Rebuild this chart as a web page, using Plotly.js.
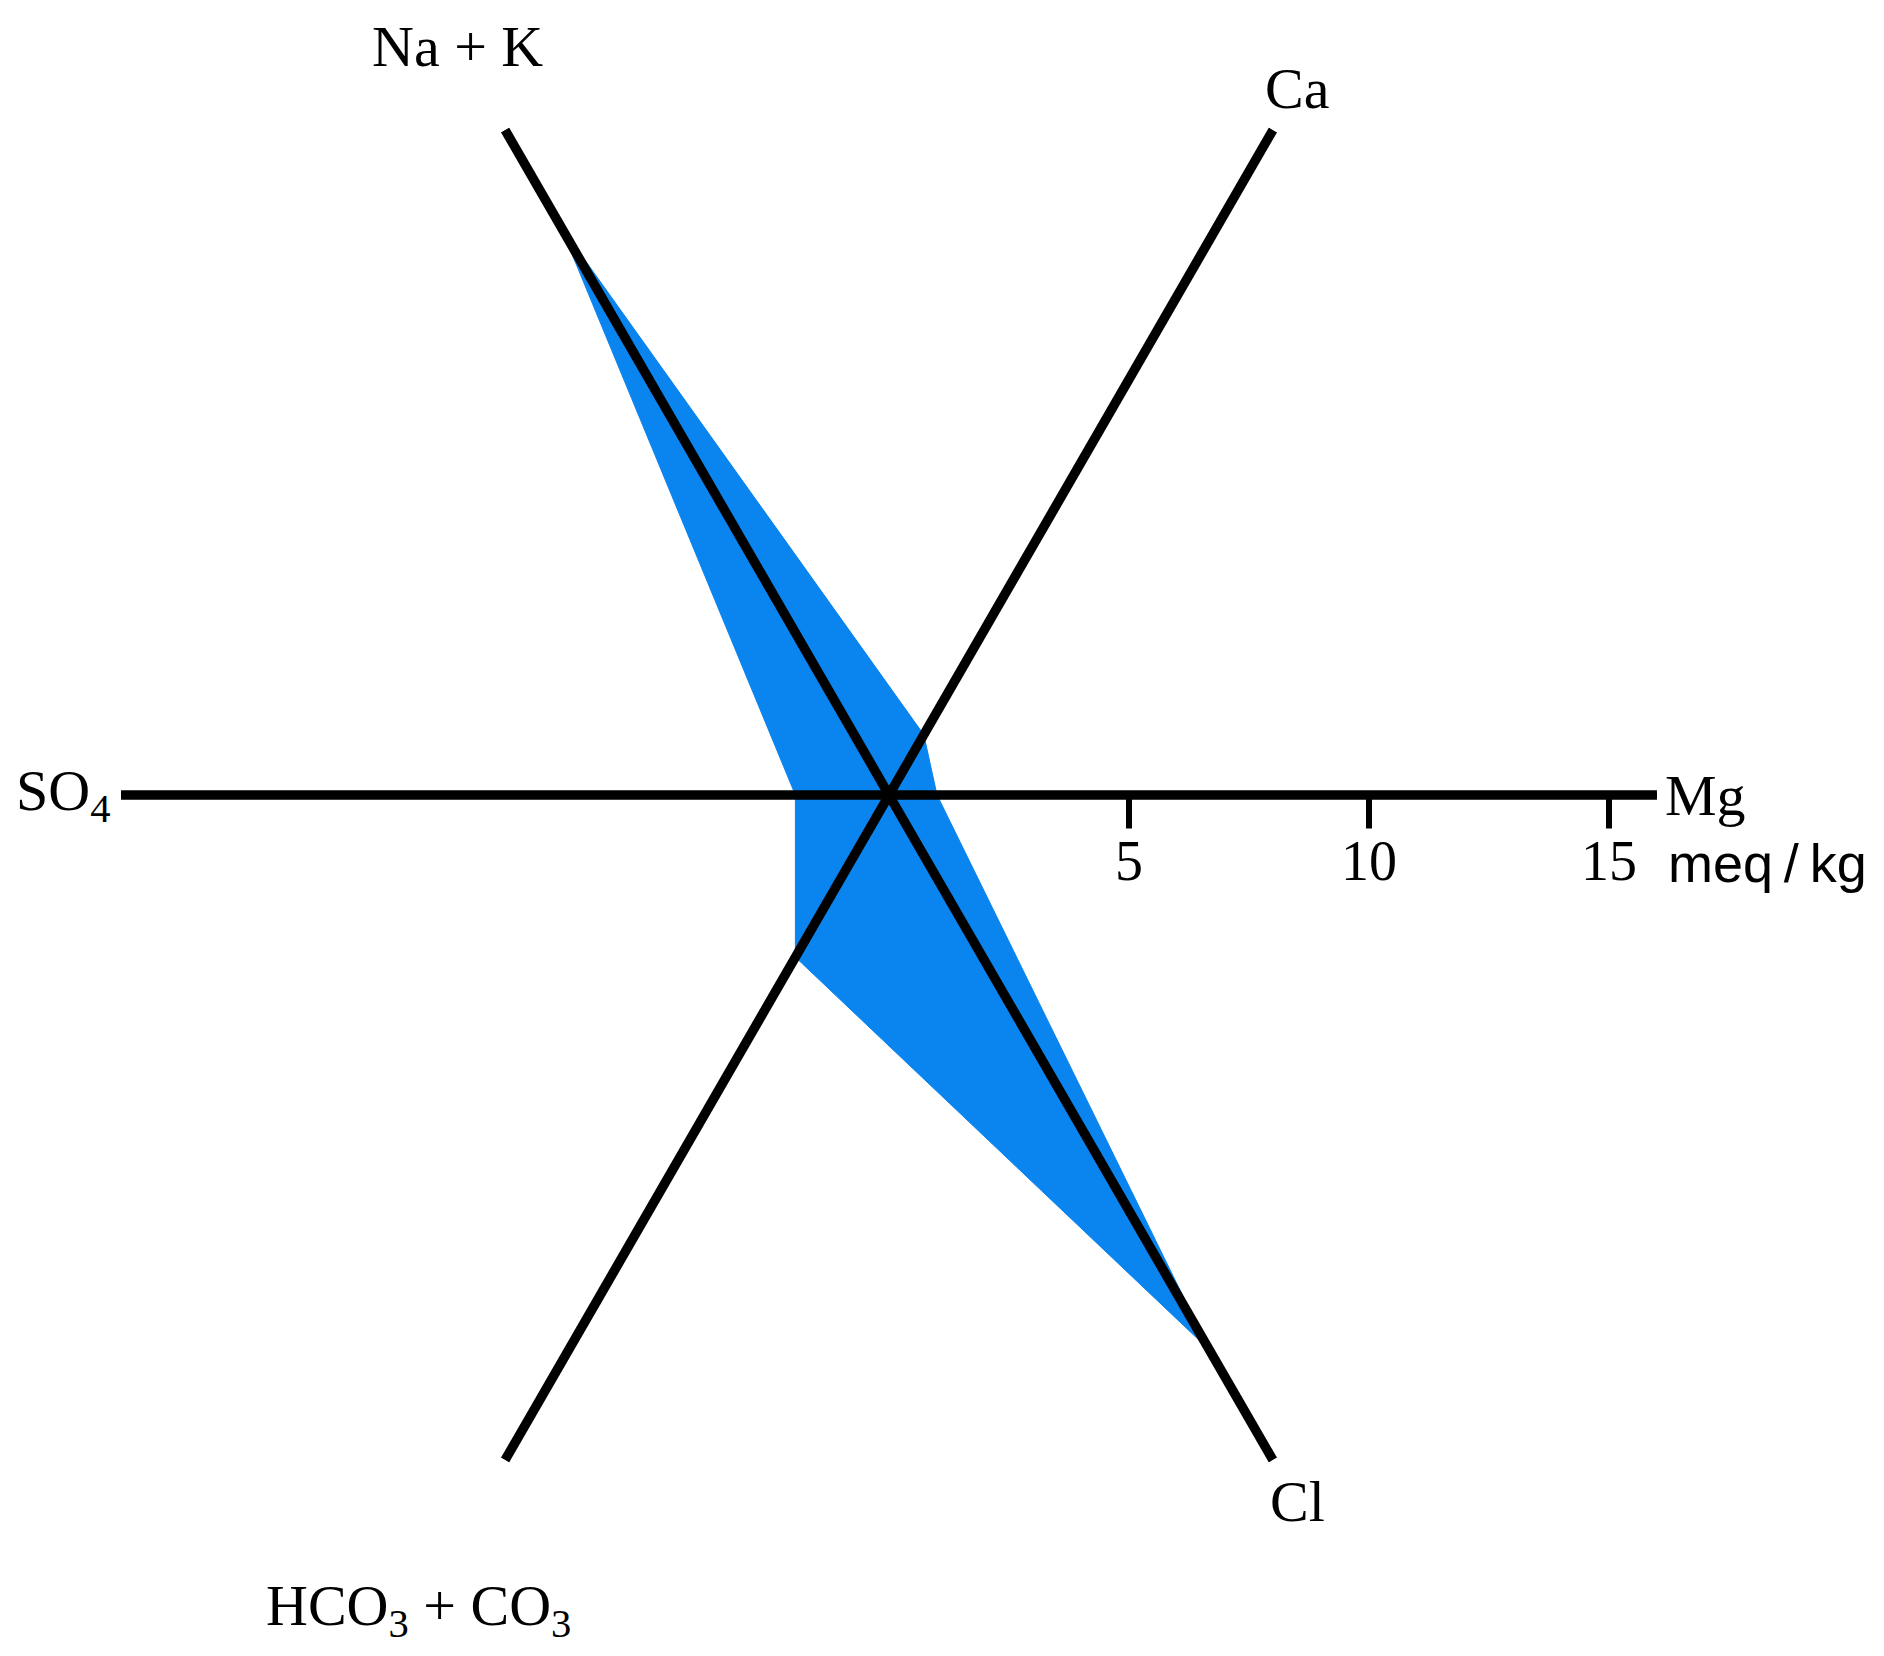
<!DOCTYPE html>
<html>
<head>
<meta charset="utf-8">
<script src="https://cdn.plot.ly/plotly-3.0.1.min.js"></script>
<style>
  html, body { margin: 0; padding: 0; background: #fff; }
  #radial { width: 1884px; height: 1656px; }
</style>
</head>
<body>
<div id="radial"></div>
<script>
// ion axes, counterclockwise from Na + K at top left
const ions = ['Na + K', 'Ca', 'Mg', 'Cl', 'HCO<sub>3</sub> + CO<sub>3</sub>', 'SO<sub>4</sub>'];
const ionAngles = [120, 60, 0, -60, -120, 180];
// concentrations, meq/kg
const values = [13.7, 1.45, 1.0, 13.35, 3.9, 1.95];
const tickValues = [5, 10, 15];
const unitLabel = 'meq\u2009/\u2009kg';
const axisMax = 16;

// where the axis names sit (radius, angle), in the same units as the data
const labelR = [18.0, 17.0, 17.0, 17.0, 19.6, 17.2];
const labelTheta = [120, 60, 0, -60, -120, 180];

const W = 1884, H = 1656;
const serif = 'Liberation Serif, Times New Roman, serif';

// polar area in pixels: centre and radius of the drawn circle
const cx = 889, cy = 795, rad = 768;

// convert a (r, angle) spot into paper coordinates for annotations
function toPaper(r, theta) {
  var t = theta * Math.PI / 180;
  var px = cx + r / axisMax * rad * Math.cos(t);
  var py = cy - r / axisMax * rad * Math.sin(t);
  return {x: px / W, y: 1 - py / H};
}

var traces = [];

// the sample polygon
traces.push({
  type: 'scatterpolar',
  r: values.concat([values[0]]),
  theta: ionAngles.concat([ionAngles[0]]),
  mode: 'lines',
  fill: 'toself',
  fillcolor: '#0a84ee',
  line: {color: '#0a84ee', width: 1},
  hoverinfo: 'skip',
  showlegend: false
});

// the six axes
ionAngles.forEach(function(a) {
  traces.push({
    type: 'scatterpolar',
    r: [0, axisMax],
    theta: [a, a],
    mode: 'lines',
    line: {color: '#000', width: 9.5},
    hoverinfo: 'skip',
    showlegend: false
  });
});

var annotations = ions.map(function(name, i) {
  var p = toPaper(labelR[i], labelTheta[i]);
  return {
    xref: 'paper', yref: 'paper',
    x: p.x, y: p.y,
    xanchor: 'center', yanchor: 'middle',
    text: name,
    showarrow: false,
    font: {family: serif, size: 58, color: '#000'}
  };
});

// scale numbers under the Mg axis, a fixed distance below the tick roots
const labelDrop = -66;
tickValues.forEach(function(v) {
  var p = toPaper(v, 0);
  annotations.push({
    xref: 'paper', yref: 'paper',
    x: p.x, y: p.y, yshift: labelDrop,
    xanchor: 'center', yanchor: 'middle',
    text: String(v),
    showarrow: false,
    font: {family: serif, size: 56, color: '#000'}
  });
});

// unit next to the last number
var u = toPaper(18.3, 0);
annotations.push({
  xref: 'paper', yref: 'paper',
  x: u.x, y: u.y, yshift: labelDrop - 2,
  xanchor: 'center', yanchor: 'middle',
  text: unitLabel,
  showarrow: false,
  font: {family: 'Liberation Sans, Arial, sans-serif', size: 54, color: '#000'}
});

var layout = {
  width: W,
  height: H,
  margin: {l: 0, r: 0, t: 0, b: 0},
  paper_bgcolor: '#fff',
  showlegend: false,
  annotations: annotations,
  polar: {
    domain: {x: [(cx - rad) / W, (cx + rad) / W], y: [1 - (cy + rad) / H, 1 - (cy - rad) / H]},
    bgcolor: 'rgba(0,0,0,0)',
    radialaxis: {
      range: [0, axisMax],
      angle: 0,
      side: 'clockwise',
      showline: false,
      showgrid: false,
      tickmode: 'array',
      tickvals: tickValues,
      ticks: 'outside',
      ticklen: 33,
      tickwidth: 6,
      tickcolor: '#000',
      showticklabels: false
    },
    angularaxis: {
      showline: false,
      showgrid: false,
      showticklabels: false,
      ticks: ''
    }
  }
};

Plotly.newPlot('radial', traces, layout, {staticPlot: true});
</script>
</body>
</html>
